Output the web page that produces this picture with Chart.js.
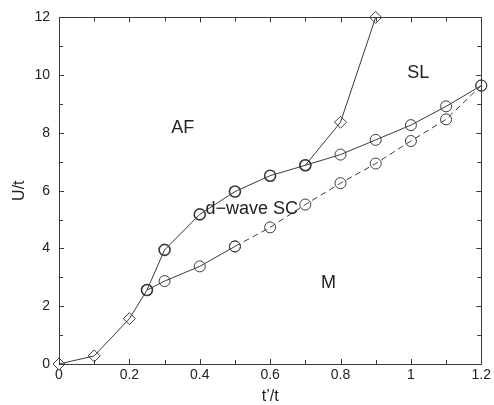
<!DOCTYPE html>
<html>
<head>
<meta charset="utf-8">
<script src="https://cdn.jsdelivr.net/npm/chart.js@4"></script>
<style>
  html, body { margin: 0; padding: 0; background: #fff; }
  canvas { display: block; }
</style>
</head>
<body>
<canvas id="phase" width="494" height="405"></canvas>
<script>
// t'/t and U/t values
const afT = [0, 0.1, 0.2, 0.25, 0.3, 0.4, 0.5, 0.6, 0.7, 0.8, 0.9];
const afU = [0, 0.28, 1.57, 2.56, 3.95, 5.18, 5.97, 6.52, 6.88, 8.37, 12];
const afMarker = ['rectRot', 'rectRot', 'rectRot', 'circle', 'circle', 'circle', 'circle', 'circle', 'circle', 'rectRot', 'rectRot'];

const slT = [0.7, 0.8, 0.9, 1.0, 1.1, 1.2];
const slU = [6.88, 7.25, 7.76, 8.27, 8.92, 9.64];

const mT = [0.25, 0.3, 0.4, 0.5];
const mU = [2.56, 2.87, 3.38, 4.07];

const mDashT = [0.5, 0.6, 0.7, 0.8, 0.9, 1.0, 1.1, 1.2];
const mDashU = [4.07, 4.73, 5.52, 6.26, 6.94, 7.72, 8.47, 9.64];

const xTicks = [0, 0.2, 0.4, 0.6, 0.8, 1, 1.2];
const yTicks = [0, 2, 4, 6, 8, 10, 12];

// region labels, placed in data coordinates
const regionLabels = [
  { text: 'AF', t: 0.352, u: 8.17 },
  { text: 'SL', t: 1.021, u: 10.09 },
  { text: 'd\u2212wave SC', t: 0.548, u: 5.37 },
  { text: 'M', t: 0.766, u: 2.8 }
];

const ink = '#3a3a3a';
const fontFam = '"Liberation Sans", Arial, Helvetica, sans-serif';

function pts(xs, ys) {
  return xs.map((x, i) => ({ x: x, y: ys[i] }));
}

function lineSet(xs, ys, extra) {
  return Object.assign({
    data: pts(xs, ys),
    showLine: true,
    borderColor: ink,
    borderWidth: 1,
    pointStyle: 'circle',
    pointRadius: 5.5,
    pointBorderColor: ink,
    pointBackgroundColor: 'rgba(0,0,0,0)',
    pointBorderWidth: 1,
    clip: false
  }, extra);
}

// inward ticks on all four sides plus the frame and region text
const framePlugin = {
  id: 'frame',
  afterDatasetsDraw(chart) {
    const { ctx, chartArea: a, scales: { x, y } } = chart;
    ctx.save();
    ctx.strokeStyle = ink;
    ctx.lineWidth = 1;
    ctx.beginPath();
    for (let i = 0; i <= 12; i++) {
      const px = Math.round(x.getPixelForValue(i / 10)) + 0.5;
      const len = i % 2 === 0 ? 5 : 4;
      ctx.moveTo(px, a.bottom); ctx.lineTo(px, a.bottom - len);
      ctx.moveTo(px, a.top); ctx.lineTo(px, a.top + len);
    }
    for (let j = 0; j <= 12; j++) {
      const py = Math.round(y.getPixelForValue(j)) + 0.5;
      const len = j % 2 === 0 ? 5 : 4;
      ctx.moveTo(a.left, py); ctx.lineTo(a.left + len, py);
      ctx.moveTo(a.right, py); ctx.lineTo(a.right - len, py);
    }
    ctx.stroke();
    ctx.strokeRect(Math.round(a.left) + 0.5, Math.round(a.top) + 0.5,
      Math.round(a.right - a.left), Math.round(a.bottom - a.top));

    ctx.fillStyle = '#222';
    ctx.font = '18px ' + fontFam;
    ctx.textAlign = 'center';
    ctx.textBaseline = 'middle';
    regionLabels.forEach(l => {
      ctx.fillText(l.text, x.getPixelForValue(l.t), y.getPixelForValue(l.u));
    });
    ctx.restore();
  }
};

new Chart(document.getElementById('phase'), {
  type: 'scatter',
  data: {
    datasets: [
      lineSet(mDashT, mDashU, { borderDash: [6, 4] }),
      lineSet(mT, mU),
      lineSet(slT, slU),
      lineSet(afT, afU, {
        pointStyle: afMarker,
        pointRadius: afMarker.map(m => m === 'rectRot' ? 6 : 5.5),
        pointBorderWidth: afMarker.map(m => m === 'rectRot' ? 1 : 1.6)
      })
    ]
  },
  options: {
    responsive: false,
    animation: false,
    events: [],
    layout: { padding: { top: 13, right: 12, left: 0, bottom: 0 } },
    plugins: { legend: { display: false }, tooltip: { enabled: false } },
    scales: {
      x: {
        type: 'linear',
        min: 0, max: 1.2,
        afterBuildTicks: s => { s.ticks = xTicks.map(v => ({ value: v })); },
        afterFit: s => { s.height = 41; },
        grid: { display: false, drawTicks: false },
        border: { display: false },
        ticks: {
          padding: 3,
          color: '#222',
          font: { family: fontFam, size: 14 },
          maxRotation: 0,
          callback: v => String(Math.round(v * 10) / 10)
        },
        title: {
          display: true,
          text: 't\u2019/t',
          color: '#222',
          font: { family: fontFam, size: 16 },
          padding: { top: 0, bottom: -1 }
        }
      },
      y: {
        type: 'linear',
        min: 0, max: 12,
        afterBuildTicks: s => { s.ticks = yTicks.map(v => ({ value: v })); },
        afterFit: s => { s.width = 59; },
        grid: { display: false, drawTicks: false },
        border: { display: false },
        ticks: {
          padding: 9,
          color: '#222',
          font: { family: fontFam, size: 14 }
        },
        title: {
          display: true,
          text: 'U/t',
          color: '#222',
          font: { family: fontFam, size: 16 },
          padding: { top: 10, bottom: 0 }
        }
      }
    }
  },
  plugins: [framePlugin]
});
</script>
</body>
</html>
